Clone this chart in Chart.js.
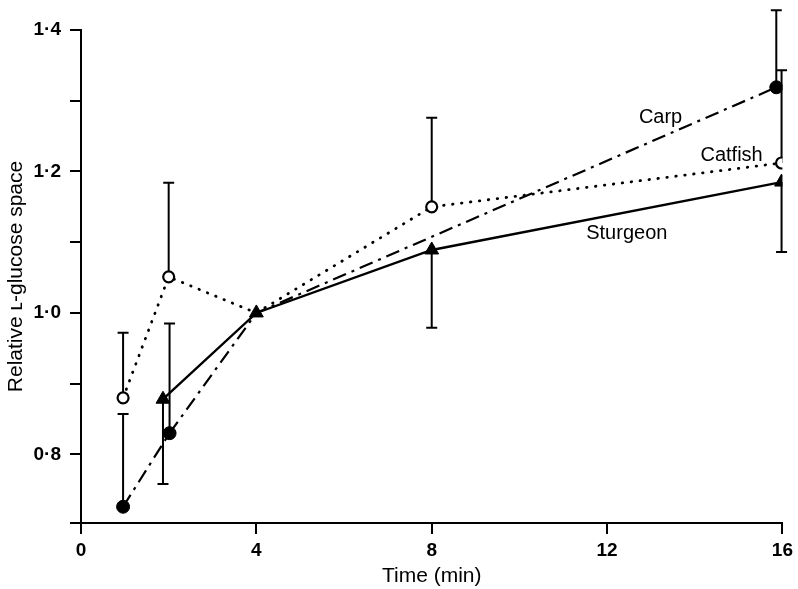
<!DOCTYPE html>
<html lang="en">
<head>
    <meta charset="UTF-8">
    <title>Relative L-glucose space</title>
    <script src="https://cdn.jsdelivr.net/npm/chart.js@4.4.0/dist/chart.umd.min.js"></script>
    <style>
        html, body { margin: 0; padding: 0; background: #fff; }
        #wrap { width: 798px; height: 589px; }
    </style>
</head>
<body>
    <div id="wrap"><canvas id="glucose"></canvas></div>

    <script>
        // Data (time in min, relative L-glucose space)
        var carpX = [0.96, 2.02, 4, 15.86];
        var carpY = [0.726, 0.83, 1.0, 1.319];
        var carpUpper = [0.857, 0.985, null, 1.428];     // only upper bars drawn for carp

        var catfishX = [0.96, 2.0, 4, 8, 15.98];
        var catfishY = [0.88, 1.051, 1.0, 1.15, 1.212];
        var catfishUpper = [0.972, 1.184, null, 1.276, 1.343];

        var sturgeonX = [1.87, 4, 8, 15.98];
        var sturgeonY = [0.878, 1.0, 1.089, 1.185];
        var sturgeonLower = [0.758, null, 0.979, 1.086];   // only lower bars drawn for sturgeon

        // marker shown or hidden (points at t=4 sit under the triangle)
        var carpRadius = [6.5, 6.5, 0, 6.5];
        var catfishRadius = [5.5, 5.5, 0, 5.5, 5.5];

        // curve labels (anchored in data units)
        var labelNames = ['Carp', 'Catfish', 'Sturgeon'];
        var labelX = [13.22, 14.84, 12.45];
        var labelY = [1.277, 1.223, 1.113];

        var xTicks = [0, 4, 8, 12, 16];
        var yTicks = [0.703, 0.8, 0.9, 1.0, 1.1, 1.2, 1.3, 1.4];
        var yLabelled = [0.8, 1.0, 1.2, 1.4];

        var FONT = '"Liberation Sans", Arial, sans-serif';

        function toPoints(xs, ys) {
            return xs.map(function (x, i) { return {x: x, y: ys[i]}; });
        }

        // draw one-sided error bars through the chart scales
        var errorBars = {
            id: 'errorBars',
            beforeDatasetsDraw: function (chart) {
                var ctx = chart.ctx;
                var xs = chart.scales.x, ys = chart.scales.y;
                ctx.save();
                ctx.strokeStyle = '#000';
                ctx.lineWidth = 2;
                chart.data.datasets.forEach(function (ds) {
                    var ends = ds.errEnds;
                    if (!ends) return;
                    ds.data.forEach(function (p, i) {
                        if (ends[i] == null) return;
                        var px = xs.getPixelForValue(p.x);
                        var py = ys.getPixelForValue(p.y);
                        var ey = ys.getPixelForValue(ends[i]);
                        ctx.beginPath();
                        ctx.moveTo(px, py);
                        ctx.lineTo(px, ey);
                        ctx.moveTo(px - 5.5, ey);
                        ctx.lineTo(px + 5.5, ey);
                        ctx.stroke();
                    });
                });
                ctx.restore();
            }
        };

        // text labels next to each curve
        var curveLabels = {
            id: 'curveLabels',
            afterDatasetsDraw: function (chart) {
                var ctx = chart.ctx;
                var xs = chart.scales.x, ys = chart.scales.y;
                ctx.save();
                ctx.fillStyle = '#000';
                ctx.font = '20px ' + FONT;
                ctx.textAlign = 'center';
                ctx.textBaseline = 'middle';
                labelNames.forEach(function (name, i) {
                    ctx.fillText(name, xs.getPixelForValue(labelX[i]), ys.getPixelForValue(labelY[i]));
                });
                ctx.restore();
            }
        };

        var axisStyle = {
            border: { display: true, color: '#000', width: 2 },
            grid: { drawOnChartArea: false, drawTicks: true, tickLength: 11, color: '#000', lineWidth: 2 }
        };

        new Chart(document.getElementById('glucose'), {
            type: 'scatter',
            data: {
                datasets: [
                    {
                        label: 'Carp',
                        data: toPoints(carpX, carpY),
                        errEnds: carpUpper,
                        showLine: true,
                        borderColor: '#000',
                        borderWidth: 2.2,
                        borderDash: [14, 6, 3, 6],
                        pointStyle: 'circle',
                        pointRadius: carpRadius,
                        pointBackgroundColor: '#000',
                        pointBorderColor: '#000',
                        pointBorderWidth: 1,
                        order: 3
                    },
                    {
                        label: 'Catfish',
                        data: toPoints(catfishX, catfishY),
                        errEnds: catfishUpper,
                        showLine: true,
                        borderColor: '#000',
                        borderWidth: 2.8,
                        borderDash: [0.5, 8.5],
                        borderCapStyle: 'round',
                        pointStyle: 'circle',
                        pointRadius: catfishRadius,
                        pointBackgroundColor: '#fff',
                        pointBorderColor: '#000',
                        pointBorderWidth: 2.2,
                        order: 2
                    },
                    {
                        label: 'Sturgeon',
                        data: toPoints(sturgeonX, sturgeonY),
                        errEnds: sturgeonLower,
                        showLine: true,
                        borderColor: '#000',
                        borderWidth: 2.4,
                        pointStyle: 'triangle',
                        pointRadius: 8,
                        pointBackgroundColor: '#000',
                        pointBorderColor: '#000',
                        pointBorderWidth: 1,
                        order: 1
                    }
                ]
            },
            options: {
                responsive: true,
                maintainAspectRatio: false,
                animation: false,
                events: [],
                layout: { padding: { top: 30, right: 14, left: 0, bottom: 0 } },
                plugins: {
                    legend: { display: false },
                    tooltip: { enabled: false }
                },
                scales: {
                    x: Object.assign({
                        type: 'linear',
                        min: 0,
                        max: 16,
                        afterBuildTicks: function (s) { s.ticks = xTicks.map(function (v) { return {value: v}; }); },
                        afterFit: function (s) { s.height = 66; },
                        ticks: {
                            color: '#000',
                            padding: 5,
                            maxRotation: 0,
                            font: { family: FONT, size: 19, weight: 'bold' },
                            callback: function (v) { return String(v); }
                        },
                        title: {
                            display: true,
                            text: 'Time (min)',
                            color: '#000',
                            font: { family: FONT, size: 21 },
                            padding: { top: 0, bottom: 0 }
                        }
                    }, axisStyle),
                    y: Object.assign({
                        type: 'linear',
                        min: 0.703,
                        max: 1.4,
                        afterBuildTicks: function (s) { s.ticks = yTicks.map(function (v) { return {value: v}; }); },
                        afterFit: function (s) { s.width = 81; },
                        ticks: {
                            color: '#000',
                            padding: 9,
                            font: { family: FONT, size: 19, weight: 'bold' },
                            callback: function (v) {
                                var hit = yLabelled.some(function (t) { return Math.abs(t - v) < 1e-6; });
                                return hit ? v.toFixed(1).replace('.', '\u00b7') : '';
                            }
                        },
                        title: {
                            display: true,
                            text: 'Relative \u029f-glucose space',
                            color: '#000',
                            font: { family: FONT, size: 21 },
                            padding: { top: 4, bottom: 0 }
                        }
                    }, axisStyle)
                }
            },
            plugins: [errorBars, curveLabels]
        });
    </script>
</body>
</html>
